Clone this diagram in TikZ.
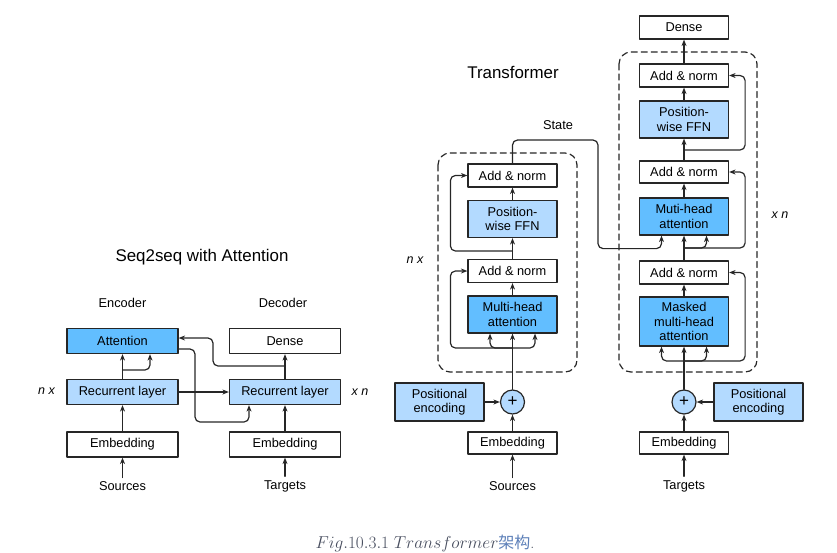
\documentclass[tikz,border=0pt]{standalone}
\usepackage{fontspec}
\setsansfont{Liberation Sans}
\newfontfamily\cjk{Noto Sans CJK SC}
\usetikzlibrary{arrows.meta}
\definecolor{deepblue}{HTML}{62BEFF}
\definecolor{liteblue}{HTML}{B3DAFF}
\definecolor{capgray}{HTML}{474D5E}
\definecolor{capblue}{HTML}{5C7FB8}
\begin{document}
\begin{tikzpicture}[x=1pt,y=-1pt,line width=1.2pt,font=\sffamily\fontsize{12.8}{14.5}\selectfont,line join=round,line cap=round,>={Stealth[length=6.5pt,width=5pt]}]
	\tikzset{box/.style={draw=black!85,fill=white,minimum width=89pt,minimum height=23pt,inner sep=0pt,align=center},
		lite/.style={box,fill=liteblue},
		deep/.style={box,fill=deepblue},
		wide/.style={minimum width=111pt,minimum height=25pt},
		wire/.style={->,draw=black!85,rounded corners=5pt},
		frame/.style={draw=black!85,dash pattern=on 6pt off 4pt,rounded corners=12pt},
		sumnode/.style={circle,draw=black!85,fill=liteblue,minimum size=24pt,inner sep=0pt,font=\sffamily\fontsize{17}{17}\selectfont},
		tag/.style={font=\sffamily\itshape\fontsize{12.5}{14}\selectfont},
		headline/.style={font=\sffamily\fontsize{16.9}{19}\selectfont}}
	\useasboundingbox (0,0) rectangle (837,552);
	% Seq2seq with attention
	\node[headline] (s2sTitle) at (202,257) {Seq2seq with Attention};
	\node (encTxt) at (122.5,303) {Encoder};
	\node (decTxt) at (283,303) {Decoder};
	\node[deep,wide] (att) at (122.5,341) {Attention};
	\node[box,wide] (dense) at (285,341) {Dense};
	\node[lite,wide] (encRNN) at (122.5,392) {Recurrent layer};
	\node[lite,wide] (decRNN) at (285,392) {Recurrent layer};
	\node[box,wide] (encEmb) at (122.5,444.5) {Embedding};
	\node[box,wide] (decEmb) at (285,444.5) {Embedding};
	\node (src) at (122.5,486) {Sources};
	\node (tgt) at (285,486) {Targets};
	\node[tag] (nxL) at (46.5,391) {n x};
	\node[tag] (xnL) at (360,392) {x n};
	% Transformer encoder
	\node[headline] (tfTitle) at (513,72) {Transformer};
	\draw[frame] (438,153) rectangle (577,372);
	\node[box] (eAN1) at (512.5,175.5) {Add \& norm};
	\node[lite,minimum height=37pt] (eFFN) at (512.5,219) {Position-\\wise FFN};
	\node[box] (eAN2) at (512.5,271) {Add \& norm};
	\node[deep,minimum height=37pt] (eMHA) at (512.5,314.5) {Multi-head\\attention};
	\node[sumnode] (ePlus) at (512.5,402) {+};
	\node[lite,minimum height=38pt] (ePE) at (439.5,402) {Positional\\encoding};
	\node[box,minimum height=22pt] (eEmb) at (512.5,443) {Embedding};
	\node (src2) at (512.5,486) {Sources};
	\node[tag] (nxR) at (415,260) {n x};
	\node (state) at (558,125) {State};
	% Transformer decoder
	\draw[frame] (619,52) rectangle (757,372);
	\node[box] (dDense) at (684,27.5) {Dense};
	\node[box] (dAN1) at (684,75.5) {Add \& norm};
	\node[lite,minimum height=37pt] (dFFN) at (684,119.5) {Position-\\wise FFN};
	\node[box,minimum height=22pt] (dAN2) at (684,172) {Add \& norm};
	\node[deep,minimum height=37pt] (dMHA) at (684,216.5) {Muti-head\\attention};
	\node[box] (dAN3) at (684,272.5) {Add \& norm};
	\node[deep,minimum height=49pt] (dMasked) at (684,321.5) {Masked\\multi-head\\attention};
	\node[sumnode] (dPlus) at (684,402) {+};
	\node[lite,minimum height=38pt] (dPE) at (758.5,402) {Positional\\encoding};
	\node[box,minimum height=22pt] (dEmb) at (684,443) {Embedding};
	\node (tgt2) at (684,486) {Targets};
	\node[tag] (xnR) at (780,215) {x n};
	% straight connectors
	\foreach \a/\b in {src/encEmb,tgt/decEmb,encEmb/encRNN,decEmb/decRNN,encRNN/att,decRNN/dense,encRNN/decRNN,
		src2/eEmb,eEmb/ePlus,ePE/ePlus,ePlus/eMHA,eMHA/eAN2,eAN2/eFFN,eFFN/eAN1,
		tgt2/dEmb,dEmb/dPlus,dPE/dPlus,dPlus/dMasked,dMasked/dAN3,dAN3/dMHA,dMHA/dAN2,dAN2/dFFN,dFFN/dAN1,dAN1/dDense}
	\draw[wire] (\a) -- (\b);
	% branch points
	\coordinate (lB1) at (122.5,370);
	\coordinate (lB2) at (285,366);
	\coordinate (eB1) at (512.5,348);
	\coordinate (eB2) at (512.5,251);
	\coordinate (dB1) at (684,361);
	\coordinate (dB2) at (684,248);
	\coordinate (dB3) at (684,150);
	\draw[wire] (lB1) -| ([xshift=27.5pt]att.south);
	\draw[wire] ([yshift=-8pt]att.east) -| (195,422) -| ([xshift=-36pt]decRNN.south);
	\draw[wire] (lB2) -| (213,338) -- ([yshift=3pt]att.east);
	\draw[wire] (eB1) -| ([xshift=-22.5pt]eMHA.south);
	\draw[wire] (eB1) -| ([xshift=22.5pt]eMHA.south);
	\draw[wire] (eB1) -| ([xshift=-17pt]eAN2.west) -- (eAN2.west);
	\draw[wire] (eB2) -| ([xshift=-17pt]eAN1.west) -- (eAN1.west);
	\draw[wire] (eAN1.north) |- (598,140) |- ([shift={(-22.5pt,-13pt)}]dMHA.south) -- ([xshift=-22.5pt]dMHA.south);
	\draw[wire] (dB1) -| ([xshift=-22.5pt]dMasked.south);
	\draw[wire] (dB1) -| ([xshift=22.5pt]dMasked.south);
	\draw[wire] (dB1) -| ([xshift=16pt]dAN3.east) -- (dAN3.east);
	\draw[wire] (dB2) -| ([xshift=22.5pt]dMHA.south);
	\draw[wire] (dB2) -| ([xshift=16pt]dAN2.east) -- (dAN2.east);
	\draw[wire] (dB3) -| ([xshift=16pt]dAN1.east) -- (dAN1.east);
	% caption
	\node[font=\rmfamily\fontsize{16}{18}\selectfont,text=capgray] (caption) at (425,543) {$Fig.10.3.1\;Transformer$\textcolor{capblue}{\cjk 架构}.};
\end{tikzpicture}
\end{document}
